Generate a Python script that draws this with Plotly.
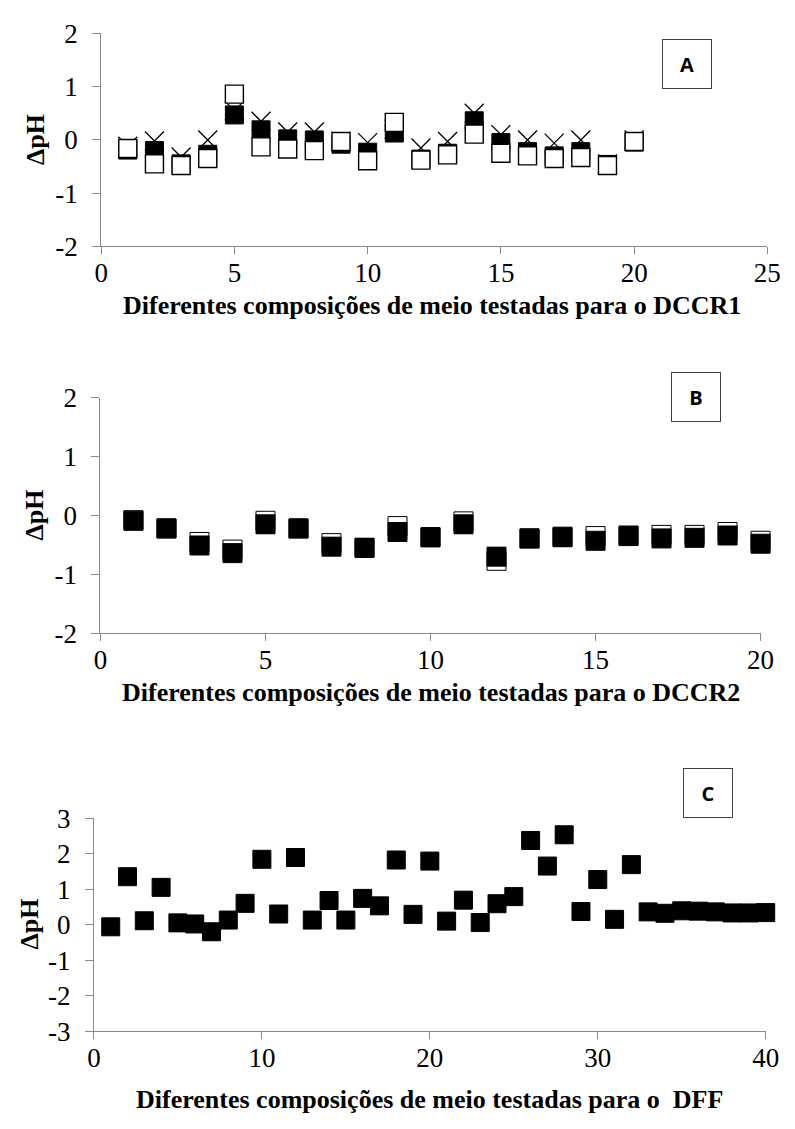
import plotly.graph_objects as go

W, H = 795, 1129

# ---------------- data ----------------
# Panel A (DCCR1)
a_x = list(range(1, 21))
a_cross = [-0.12, -0.02, -0.32, 0.0, 0.55, 0.35, 0.15, 0.15, -0.03, -0.05,
           0.2, -0.15, -0.03, 0.5, 0.1, 0.0, -0.06, 0.0, -0.45, 0.0]
a_black = [-0.19, -0.2, -0.45, -0.27, 0.47, 0.19, 0.02, 0.0, -0.08, -0.23,
           0.13, -0.36, -0.25, 0.36, -0.05, -0.22, -0.3, -0.22, -0.46, -0.04]
a_open = [-0.16, -0.45, -0.48, -0.35, 0.86, -0.13, -0.17, -0.2, -0.03, -0.39,
          0.33, -0.38, -0.28, 0.11, -0.25, -0.3, -0.35, -0.33, -0.48, -0.03]

# Panel B (DCCR2)
b_x = list(range(1, 21))
b_open = [-0.08, -0.22, -0.45, -0.58, -0.09, -0.22, -0.47, -0.55, -0.18, -0.37,
          -0.10, -0.77, -0.39, -0.36, -0.35, -0.34, -0.33, -0.33, -0.28, -0.43]
b_black = [-0.09, -0.22, -0.51, -0.64, -0.15, -0.22, -0.53, -0.55, -0.28, -0.37,
           -0.15, -0.70, -0.39, -0.37, -0.43, -0.35, -0.39, -0.38, -0.34, -0.48]

# Panel C (DFF)
c_x = list(range(1, 41))
c_black = [-0.06, 1.35, 0.11, 1.05, 0.05, 0.02, -0.2, 0.13, 0.6, 1.84,
           0.3, 1.89, 0.13, 0.68, 0.13, 0.74, 0.53, 1.82, 0.29, 1.79,
           0.1, 0.69, 0.06, 0.59, 0.79, 2.37, 1.65, 2.53, 0.37, 1.27,
           0.15, 1.69, 0.36, 0.32, 0.39, 0.38, 0.36, 0.33, 0.33, 0.34]

# tick values / labels
xt_a = [0, 5, 10, 15, 20, 25]
xt_b = [0, 5, 10, 15, 20]
xt_c = [0, 10, 20, 30, 40]
yt_ab = [-2, -1, 0, 1, 2]
yt_c = [-3, -2, -1, 0, 1, 2, 3]

titles = ["Diferentes composições de meio testadas para o DCCR1",
          "Diferentes composições de meio testadas para o DCCR2",
          "Diferentes composições de meio testadas para o  DFF"]
panel_labels = ["A", "B", "C"]
y_title = "ΔpH"

# ---------------- layout geometry (pixels) ----------------
SERIF = "Liberation Serif"
AXC = "#898989"


def px_x(v):
    return v / W


def px_y(v):
    return 1 - v / H


panels = [
    dict(l=96.7, r=781.0, t=19.0, b=237.7, xr=[0, 25], xt=xt_a, yr=[-2, 2], yt=yt_ab),
    dict(l=96.0, r=774.0, t=393.3, b=635.0, xr=[0, 20], xt=xt_b, yr=[-2, 2], yt=yt_ab),
    dict(l=89.3, r=779.3, t=825.0, b=1044.0, xr=[0, 40], xt=xt_c, yr=[-3, 3], yt=yt_c),
]

fig = go.Figure()

sq_black = dict(symbol="square", size=18, color="black", line=dict(color="black", width=1))
sq_open = dict(symbol="square", size=18, color="white", line=dict(color="black", width=1.4))
cross = dict(symbol="x-thin-open", size=19, color="black", line=dict(color="black", width=1.3))

# Panel A: crosses below, black, open on top
fig.add_trace(go.Scatter(x=a_x, y=a_cross, mode="markers", marker=cross, xaxis="x", yaxis="y", cliponaxis=False))
fig.add_trace(go.Scatter(x=a_x, y=a_black, mode="markers", marker=sq_black, xaxis="x", yaxis="y", cliponaxis=False))
fig.add_trace(go.Scatter(x=a_x, y=a_open, mode="markers", marker=sq_open, xaxis="x", yaxis="y", cliponaxis=False))

# Panel B: open below, black on top
fig.add_trace(go.Scatter(x=b_x, y=b_open, mode="markers",
                         marker=dict(symbol="square", size=19, color="white", line=dict(color="black", width=1)),
                         xaxis="x2", yaxis="y2", cliponaxis=False))
fig.add_trace(go.Scatter(x=b_x, y=b_black, mode="markers",
                         marker=dict(symbol="square", size=19, color="black", line=dict(color="black", width=1)),
                         xaxis="x2", yaxis="y2", cliponaxis=False))

# Panel C
fig.add_trace(go.Scatter(x=c_x, y=c_black, mode="markers", marker=sq_black, xaxis="x3", yaxis="y3", cliponaxis=False))

layout = dict(width=W, height=H, margin=dict(l=0, r=0, t=0, b=0),
              paper_bgcolor="white", plot_bgcolor="white", showlegend=False,
              font=dict(family=SERIF, size=24, color="black"))

tickfont = dict(family=SERIF, size=27, color="black")
annotations = []
for i, p in enumerate(panels):
    sfx = "" if i == 0 else str(i + 1)
    layout["xaxis" + sfx] = dict(
        domain=[px_x(p["l"]), px_x(p["r"])], range=p["xr"],
        tickmode="array", tickvals=p["xt"], ticktext=[str(v) for v in p["xt"]],
        anchor="y" + sfx, showgrid=False, zeroline=False, showline=True,
        linecolor=AXC, linewidth=1, ticks="outside", ticklen=7, tickcolor=AXC,
        tickfont=tickfont, ticklabelstandoff=-5,
    )
    layout["yaxis" + sfx] = dict(
        domain=[px_y(p["b"]), px_y(p["t"])], range=p["yr"],
        tickmode="array", tickvals=p["yt"], ticktext=[str(v) for v in p["yt"]],
        anchor="x" + sfx, showgrid=False, zeroline=False, showline=True,
        linecolor=AXC, linewidth=1, ticks="outside", ticklen=8, tickcolor=AXC,
        tickfont=tickfont, ticklabelstandoff=9,
    )

# axis titles
ytitle_pos = [(30, 128.3), (28, 514), (23, 934)]
xtitle_pos = [(437, 298), (435, 696), (434, 1114)]
for (xx, yy) in ytitle_pos:
    annotations.append(dict(text="<b>%s</b>" % y_title, x=px_x(xx), y=px_y(yy), xref="paper", yref="paper",
                            showarrow=False, textangle=-90, xanchor="center", yanchor="middle",
                            font=dict(family=SERIF, size=26, color="black")))
for t, (xx, yy) in zip(titles, xtitle_pos):
    annotations.append(dict(text="<b>%s</b>" % t, x=px_x(xx), y=px_y(yy), xref="paper", yref="paper",
                            showarrow=False, xanchor="center", yanchor="middle",
                            font=dict(family=SERIF, size=26, color="black")))

# panel letter boxes
box_pos = [(698, 50.8), (708, 392), (720, 799.7)]
for lab, (xx, yy) in zip(panel_labels, box_pos):
    annotations.append(dict(text="<b>%s</b>" % lab, x=px_x(xx), y=px_y(yy), xref="paper", yref="paper",
                            showarrow=False, xanchor="center", yanchor="middle",
                            width=48, height=48, borderpad=0, borderwidth=1, bordercolor="#404040",
                            bgcolor="white",
                            font=dict(family="Open Sans", size=20, color="black")))

layout["annotations"] = annotations
fig.update_layout(**layout)
fig.write_html("out.html")
